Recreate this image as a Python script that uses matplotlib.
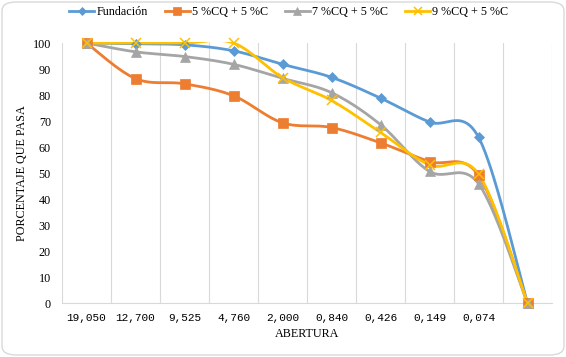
import numpy as np
import matplotlib
matplotlib.use("Agg")
import matplotlib.pyplot as plt
from matplotlib.patches import FancyBboxPatch, Rectangle

plt.rcParams['font.family'] = ['Liberation Serif', 'DejaVu Serif']

tick_labels = ["19,050", "12,700", "9,525", "4,760", "2,000", "0,840", "0,426", "0,149", "0,074", ""]
fundacion = [100, 99.7, 99.3, 97.0, 91.8, 86.8, 78.8, 69.6, 63.8, 0]
cq5 = [100, 86.3, 84.3, 79.7, 69.3, 67.5, 61.6, 54.4, 49.1, 0]
cq7 = [100, 96.6, 94.8, 91.8, 86.4, 80.9, 68.6, 50.6, 45.9, 0]
cq9 = [100, 100, 100, 100, 86.7, 77.9, 65.6, 53.1, 49.6, 0]

series_names = ["Fundación", "5 %CQ + 5 %C", "7 %CQ + 5 %C", "9 %CQ + 5 %C"]
series_vals = [fundacion, cq5, cq7, cq9]
colors = ["#5B9BD5", "#ED7D31", "#A5A5A5", "#FFC000"]
markers = ["D", "s", "^", "x"]
msizes = [5, 6.5, 6.5, 7]


def smooth(xs, ys, n=40):
    xs = np.asarray(xs, float)
    ys = np.asarray(ys, float)
    P = np.column_stack([xs, ys])
    out = []
    m = len(P)
    for i in range(m - 1):
        p0 = P[i - 1] if i > 0 else P[i]
        p1 = P[i]
        p2 = P[i + 1]
        p3 = P[i + 2] if i + 2 < m else P[i + 1]
        c1 = p1 + (p2 - p0) / 6.0
        c2 = p2 - (p3 - p1) / 6.0
        t = np.linspace(0, 1, n)[:, None]
        seg = ((1 - t) ** 3) * p1 + 3 * ((1 - t) ** 2) * t * c1 + 3 * (1 - t) * t ** 2 * c2 + t ** 3 * p2
        if i > 0:
            seg = seg[1:]
        out.append(seg)
    out = np.vstack(out)
    return out[:, 0], out[:, 1]


W, H = 566, 357
fig = plt.figure(figsize=(W / 100, H / 100), dpi=100)
border = FancyBboxPatch((2 / W, 2 / H), 1 - 4 / W, 1 - 4 / H,
                        boxstyle="round,pad=0,rounding_size=0.025",
                        transform=fig.transFigure, facecolor="white",
                        edgecolor="#d9d9d9", linewidth=1.0, zorder=-10)
fig.patches.append(border)
ax = fig.add_axes([62 / W, 1 - 303 / H, (552 - 62) / W, (303 - 43) / H])
ax.set_facecolor("none")

x = np.arange(len(tick_labels))
clip = Rectangle((-0.5, -2), 10, 102.35, transform=ax.transData)
handles = []
for name, vals, c, mk, ms in zip(series_names, series_vals, colors, markers, msizes):
    sx, sy = smooth(x, vals)
    ln, = ax.plot(sx, sy, color=c, lw=2.0, solid_capstyle='round', zorder=3)
    ln.set_clip_path(clip)
    mw = 1.1 if mk == "x" else 0.5
    ax.plot(x, vals, linestyle='none', marker=mk, color=c, markersize=ms,
            markeredgewidth=mw, clip_on=False, zorder=4)
    h, = ax.plot([], [], color=c, lw=2.0, marker=mk, markersize=ms * 0.85, markeredgewidth=mw)
    handles.append(h)

ax.set_xlim(-0.5, 9.5)
ax.set_ylim(0, 100)
ax.set_yticks(np.arange(0, 101, 10))
ax.set_xticks(x)
ax.set_xticklabels(tick_labels, fontfamily=['Liberation Mono', 'DejaVu Sans Mono'], fontsize=8)
ax.set_xticks(np.arange(-0.5, 10, 1), minor=True)
ax.grid(True, which='minor', axis='x', color="#d9d9d9", lw=0.8)
ax.grid(False, which='major')
ax.tick_params(axis='both', which='both', length=0, colors="#000000")
ax.tick_params(axis='y', labelsize=8.7, pad=8)
ax.tick_params(axis='x', pad=7)
for s in ["top", "right", "left"]:
    ax.spines[s].set_visible(False)
ax.spines["bottom"].set_color("#d9d9d9")
ax.spines["bottom"].set_linewidth(0.8)

ax.set_xlabel("ABERTURA", fontsize=8.7, labelpad=4)
ax.set_ylabel("PORCENTAJE QUE PASA", fontsize=8.7, labelpad=3)

fig.legend(handles, series_names, loc='center', bbox_to_anchor=(0.51, 1 - 12 / H),
           ncol=4, frameon=False, fontsize=8.7, handlelength=2.1, columnspacing=1.4,
           handletextpad=0.15)

fig.savefig("out.png", dpi=100)
